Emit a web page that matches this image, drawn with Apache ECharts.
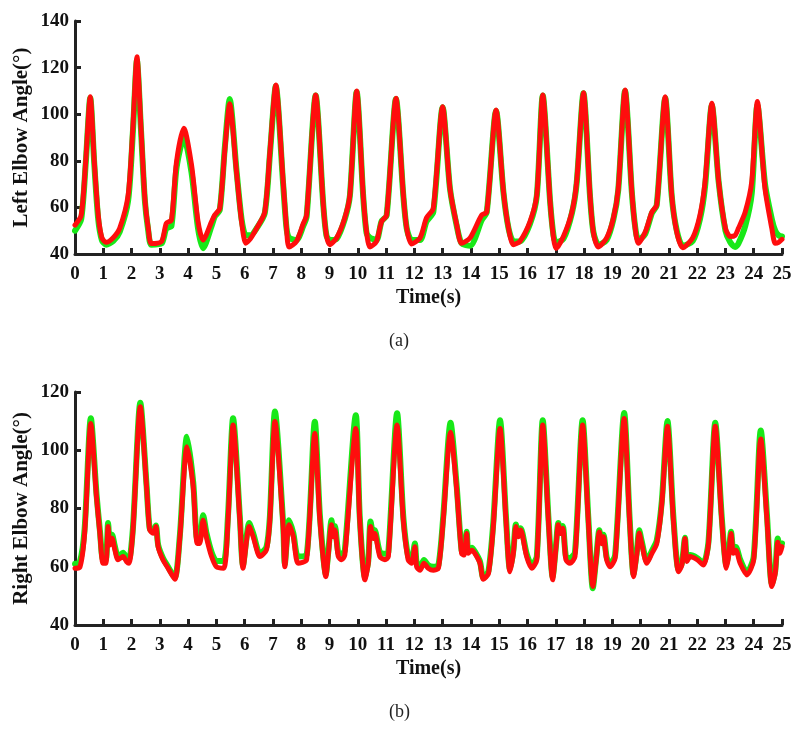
<!DOCTYPE html>
<html>
<head>
<meta charset="utf-8">
<script src="https://cdn.jsdelivr.net/npm/echarts@6/dist/echarts.min.js"></script>
<style>
html,body{margin:0;padding:0;background:#fff;}
#chart{width:798px;height:733px;}
</style>
</head>
<body>
<div id="chart"></div>
<script>
// ---------- (a) Left elbow ----------
const topTime = [0.00,0.22,0.38,0.54,0.68,0.82,0.95,1.10,1.35,1.58,1.88,2.05,2.19,2.33,2.47,2.59,2.70,3.06,3.23,3.41,3.59,3.85,4.12,4.35,4.53,4.83,4.94,5.12,5.30,5.47,5.71,5.89,6.04,6.20,6.42,6.71,6.90,7.10,7.36,7.48,7.57,7.83,8.07,8.19,8.51,8.78,8.89,9.01,9.25,9.54,9.72,9.96,10.19,10.31,10.43,10.66,10.84,11.02,11.35,11.61,11.73,11.90,12.20,12.43,12.67,13.00,13.26,13.50,13.67,13.97,14.38,14.56,14.89,15.15,15.33,15.50,15.73,16.09,16.33,16.54,16.80,16.92,17.01,17.27,17.57,17.74,17.98,18.21,18.33,18.51,18.80,19.04,19.21,19.45,19.69,19.81,19.92,20.16,20.40,20.57,20.87,21.10,21.28,21.49,21.84,22.10,22.28,22.52,22.76,23.00,23.17,23.34,23.46,23.70,23.93,24.13,24.40,24.64,24.76,24.88,25.00];
const topRed = [52.4,56.7,80,107.5,80,56.7,47,45,47,51,65.3,95,124.7,95,63.9,51,44.5,45.4,53.2,54.6,79.6,94,78.2,53.9,46,53.9,56.7,59.6,85,104.5,75.3,53.9,44.6,46.5,51,58,85,112.5,71,51,43,45.4,53,56.7,108.2,61,48,44,46.9,55.5,65.3,110,65.3,49.3,43,45.4,53.9,56.7,106.8,65.3,51,44.3,46.9,55.5,59.6,103.2,68,52.4,44.6,46.9,56.7,58,101.8,66.7,51,44,45.4,53.9,65.3,108.2,62.4,46.9,42.4,47.5,58,71,109.2,65.3,49.3,43,46.9,55.5,68,110.4,66.7,51,44.6,49.3,58,61,107.5,65.3,49.3,42.7,46.9,56.7,71,104.7,71,51,47.5,48,51,58,71,105.4,68,51,44.6,45,46.3];
const topGreen = [50,55,79,107,79,55,46,44,45.5,49.5,63,93,123,94,63,50,44,44.5,51,52,77,90,75,51,42.5,52,56,59,86,106.5,76,55,48,48,51,57.5,84,112,70,51,47,46,52,56,108,61,48,46,46.5,55,65,109.5,65,49,47,46,54,56.5,106.5,65,51,46,46,54,58,103,68,52,44.6,43.5,54.5,58,101.5,66.5,51,45.5,45.4,53,65,108,62.5,48,45,46.5,57.5,70.5,109,65,49.5,44,46,55,67.5,110,66.5,51.5,46,48.5,57.5,61,107,65,50,43.5,45.5,55,69,104,71,50,45,43,44.5,52,66,104,70,55,50,48,47.5];

// ---------- (b) Right elbow ----------
const botTime = [0.00,0.17,0.34,0.56,0.76,0.88,0.99,1.09,1.17,1.23,1.31,1.41,1.52,1.70,1.82,1.91,2.05,2.31,2.53,2.64,2.76,2.86,2.94,3.11,3.29,3.53,3.71,3.96,4.18,4.32,4.41,4.53,4.65,4.83,5.00,5.26,5.41,5.59,5.83,5.94,6.16,6.30,6.54,6.77,6.89,7.07,7.36,7.42,7.57,7.72,7.89,8.19,8.48,8.66,8.87,8.96,9.07,9.13,9.19,9.31,9.43,9.54,9.93,10.07,10.25,10.37,10.45,10.55,10.60,10.78,10.96,11.08,11.39,11.61,11.78,11.90,12.02,12.08,12.20,12.34,12.49,12.67,12.85,13.02,13.28,13.49,13.67,13.76,13.85,13.91,14.03,14.14,14.32,14.44,14.62,14.79,15.03,15.24,15.38,15.50,15.59,15.68,15.76,15.97,16.15,16.33,16.54,16.74,16.89,17.01,17.09,17.17,17.25,17.36,17.50,17.68,17.95,18.15,18.31,18.43,18.54,18.63,18.69,18.80,18.92,19.10,19.42,19.61,19.75,19.87,19.95,20.04,20.22,20.40,20.57,20.75,20.95,21.16,21.34,21.46,21.57,21.64,21.75,22.00,22.22,22.40,22.64,22.87,23.03,23.11,23.20,23.28,23.37,23.52,23.76,24.00,24.25,24.47,24.64,24.76,24.85,24.93,25.00];
const botRed = [59.5,59.8,71.5,109.2,84,71.5,61.2,61.2,73.8,67.5,69.8,65.8,62.4,63.5,61.8,61.2,72.7,114.9,87.5,72.7,71.5,73.8,66.9,62.4,59.5,55.7,70.3,101.2,87.5,68,68,76,70,63.5,60,59.5,76,108.7,76,59.5,73.8,70.3,63.5,65.8,76,109.9,73.8,60,74.4,70.3,61.2,62.4,105.8,76,56.6,64.6,74.4,70.3,72.6,63.5,62.4,64,107.5,76,55.5,61.2,73.8,69.7,71.4,63.5,62.4,63.5,108.7,76,62.4,61.2,66.9,60,58.8,61.2,59.5,58.8,59.5,76,106.2,87.4,64.6,64,71.4,64.6,65.7,64.6,61.2,55.7,57.7,73.8,107.5,76,58.3,64.6,73.8,70.3,72.6,63.5,59.5,62.4,108.7,76,55.5,66.9,74.4,71.4,73.2,62.4,61.2,63.5,108.7,76,53.2,62.4,71.9,67.9,70.3,62.4,60,63,110.9,76,56.6,64.6,71.6,67.9,61.2,64.6,67.9,81.6,108.2,76,58.3,60.6,69.7,61.8,63.5,62.4,60.6,67.9,108.2,76,59.5,63.5,71.4,64.6,65.7,61.2,57.2,62.4,103.9,76,53.2,57.7,68.4,64.6,66.9];
const botGreen = [61,61.5,73,111,85,72.5,62.5,62.5,75,68.5,71,67,63.5,64.8,63,62.5,73.5,116.3,88,73.2,72,74.2,67.5,63,60,56.2,71,104.6,89,69.5,69.5,77.7,71.5,65,62,62,77.5,111,77,60.5,75,71.5,64.5,66.8,77,113.3,75,61,76,71.5,63.5,64,109.8,77.5,57.5,65.5,76,71.5,74,64.8,64.5,65.5,112,77,56.5,62,75.5,71,72.5,65,64.5,65,112.7,77,63.5,62.5,68,61.5,60,62.3,60.5,60,60.5,77,109.4,88.5,65.5,65,72,65.5,66.5,65.2,61.8,56.2,58.5,75,110.3,77,59,65.5,74.5,71,73.2,64.5,60.5,63.5,110.3,77,56.5,67.5,75,72,74,63.5,63,65,110.3,77,52.6,63,72.5,68.5,71,63.2,61,64,112.8,77,57.5,65.5,72.5,68.8,62,65.5,69,82.5,110,77,59,61.2,70,62.5,64,63,61.3,68.5,109.4,77,60.5,64.5,72,65.5,66.8,62.5,58,63.5,106.8,77.5,54,58.5,69.7,66,68];

const xTicks = [0,25,1];
const topY = [40,140,20];
const botY = [40,120,20];

function pairs(t, v){ return t.map((x,i)=>[x,v[i]]); }

const AX = '#222';
const FONT = 'Liberation Serif';
function xAxis(gi){
  return {
    type:'value', gridIndex:gi, min:xTicks[0], max:xTicks[1], interval:xTicks[2],
    name:'Time(s)', nameLocation:'middle', nameGap:34, nameMoveOverlap:false,
    nameTextStyle:{fontFamily:FONT,fontWeight:'bold',fontSize:20,color:'#111'},
    axisLine:{show:true,onZero:false,lineStyle:{color:AX,width:3}},
    axisTick:{show:true,inside:true,length:6,lineStyle:{color:AX,width:3}},
    axisLabel:{fontFamily:FONT,fontWeight:'bold',fontSize:19,color:'#111',margin:11},
    splitLine:{show:false}
  };
}
function yAxis(gi, r, name){
  return {
    type:'value', gridIndex:gi, min:r[0], max:r[1], interval:r[2],
    name:name, nameLocation:'middle', nameGap:43, nameMoveOverlap:false,
    nameTextStyle:{fontFamily:FONT,fontWeight:'bold',fontSize:21,color:'#111'},
    axisLine:{show:true,onZero:false,lineStyle:{color:AX,width:3}},
    axisTick:{show:true,inside:true,length:6,lineStyle:{color:AX,width:3}},
    axisLabel:{fontFamily:FONT,fontWeight:'bold',fontSize:19,color:'#111',margin:6},
    splitLine:{show:false}
  };
}
function line(gi, t, v, color, w){
  return {type:'line', xAxisIndex:gi, yAxisIndex:gi, data:pairs(t,v), showSymbol:false,
    smooth:0.25, lineStyle:{color:color,width:w,cap:'round',join:'round'}, itemStyle:{color:color}, animation:false, z:2};
}

const chart = echarts.init(document.getElementById('chart'), null, {renderer:'canvas'});
chart.setOption({
  animation:false,
  backgroundColor:'#fff',
  grid:[
    {left:75, top:21, width:707, height:233},
    {left:75, top:392, width:707, height:233}
  ],
  xAxis:[xAxis(0), xAxis(1)],
  yAxis:[yAxis(0, topY, 'Left Elbow Angle(°)'), yAxis(1, botY, 'Right Elbow Angle(°)')],
  series:[
    line(0, topTime, topGreen, '#18e818', 6),
    line(0, topTime, topRed, '#ff0d0d', 5),
    line(1, botTime, botGreen, '#18e818', 6),
    line(1, botTime, botRed, '#ff0d0d', 5)
  ],
  graphic:[
    {type:'text', left:389, top:332, style:{text:'(a)', font:'18px "Liberation Serif"', fill:'#222'}},
    {type:'text', left:389, top:703, style:{text:'(b)', font:'18px "Liberation Serif"', fill:'#222'}}
  ]
});
</script>
</body>
</html>
